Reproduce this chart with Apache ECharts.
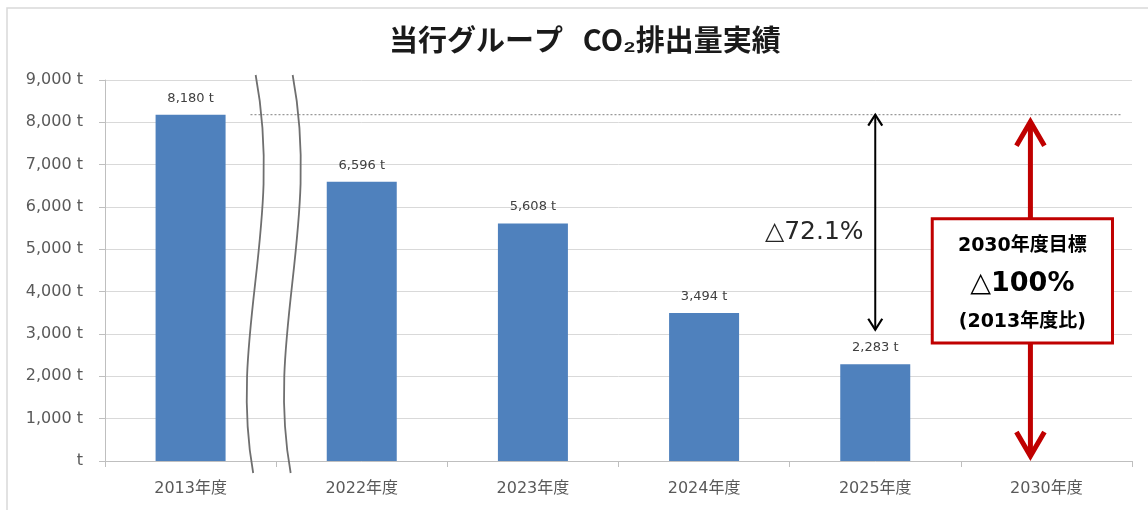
<!DOCTYPE html>
<html>
<head>
<meta charset="utf-8">
<script src="https://cdn.jsdelivr.net/npm/echarts@6/dist/echarts.min.js"></script>
<style>
html,body{margin:0;padding:0;background:#fff}
#main{width:1148px;height:510px}
</style>
</head>
<body>
<div id="main"></div>
<script>
// 年度ごとの排出量 (t)
var categories = ['2013年度', '2022年度', '2023年度', '2024年度', '2025年度', '2030年度'];
var emissions = [8180, 6596, 5608, 3494, 2283, null];
var yMin = 0, yMax = 9000, yStep = 1000;

// 注記
var baseValue = 8180;          // 2013年度基準
var reductionEnd = 3100;       // 黒矢印の下端
var reductionText = '△72.1%';
var targetLines = ['2030年度目標', '△100%', '(2013年度比)'];

var fontNum = "'DejaVu Sans', 'Noto Sans CJK JP', sans-serif";
var fontJp = "'Noto Sans CJK JP', sans-serif";

function fmt(v) {
  return v.toLocaleString('en-US') + ' t';
}

var myChart = echarts.init(document.getElementById('main'));
var option = {
  animation: false,
  backgroundColor: '#fff',
  title: {
    text: '当行グループ   CO₂排出量実績',
    left: 384,
    top: 20,
    textStyle: {fontFamily: fontJp, fontSize: 29, fontWeight: 'bold', color: '#1a1a1a'}
  },
  grid: {left: 105, right: 16, top: 80, bottom: 49},
  xAxis: {
    type: 'category',
    data: categories,
    axisLine: {lineStyle: {color: '#bfbfbf'}},
    axisTick: {show: true, length: 6, lineStyle: {color: '#bfbfbf'}},
    axisLabel: {margin: 20, fontFamily: fontNum, fontSize: 16, color: '#595959'}
  },
  yAxis: {
    type: 'value',
    min: yMin,
    max: yMax,
    interval: yStep,
    axisLine: {show: true, lineStyle: {color: '#bfbfbf'}},
    axisTick: {show: true, length: 6, lineStyle: {color: '#bfbfbf'}},
    splitLine: {lineStyle: {color: '#d9d9d9'}},
    axisLabel: {
      margin: 22,
      fontFamily: fontNum, fontSize: 16, color: '#595959',
      formatter: function (v) { return v === 0 ? 't' : fmt(v); }
    }
  },
  series: [{
    name: 'CO2排出量',
    type: 'bar',
    data: emissions,
    barWidth: 70,
    itemStyle: {color: '#4F81BD'},
    label: {
      show: true,
      position: 'top',
      distance: 10,
      fontFamily: fontNum, fontSize: 13, color: '#404040',
      formatter: function (p) { return fmt(p.value); }
    }
  }]
};
myChart.setOption(option);

// 注記類はデータ座標から位置を出して描く
function px(i, v) {
  return myChart.convertToPixel({gridIndex: 0}, [i, v]);
}
function drawNotes() {
  var c0 = px(0, 0), c1 = px(1, 0);
  var band = c1[0] - c0[0];
  var yTop = px(0, yMax)[1], yBot = px(0, yMin)[1];
  var yBase = px(0, baseValue)[1];
  var g = [];

  // 外枠
  g.push({type: 'rect', shape: {x: 7, y: 8, width: 1200, height: 600},
    style: {fill: 'none', stroke: '#d9d9d9', lineWidth: 1.5}, z: 0});

  // 2013年度基準の点線
  var xEnd = px(5, 0)[0] + band / 2 - 10;
  g.push({type: 'line', shape: {x1: c0[0] + band * 0.35, y1: yBase, x2: xEnd, y2: yBase},
    style: {stroke: '#999', lineWidth: 1.3, lineDash: [2, 2]}, z: 5});

  // 省略線（波線）
  var xb = c0[0] + band / 2;
  [[-20.5, -23], [16.5, 14.5]].forEach(function (d) {
    g.push({type: 'bezierCurve',
      shape: {x1: xb + d[0], y1: yTop - 5, cpx1: xb + d[0] + 28, cpy1: yTop + 145,
        cpx2: xb + d[0] - 27, cpy2: yTop + 255, x2: xb + d[1], y2: yBot + 12},
      style: {stroke: '#6f6f6f', lineWidth: 1.8, fill: 'none'}, z: 6});
  });

  // 黒の両矢印 (△72.1%)
  var xa = px(4, 0)[0];
  var ya1 = yBase, ya2 = px(4, reductionEnd)[1];
  g.push({type: 'line', shape: {x1: xa, y1: ya1, x2: xa, y2: ya2},
    style: {stroke: '#000', lineWidth: 2}, z: 7});
  g.push({type: 'polyline', shape: {points: [[xa - 7, ya1 + 11], [xa, ya1], [xa + 7, ya1 + 11]]},
    style: {stroke: '#000', lineWidth: 2.2, fill: 'none'}, z: 7});
  g.push({type: 'polyline', shape: {points: [[xa - 7, ya2 - 11], [xa, ya2], [xa + 7, ya2 - 11]]},
    style: {stroke: '#000', lineWidth: 2.2, fill: 'none'}, z: 7});
  g.push({type: 'text', x: xa - 61, y: px(4, 5400)[1],
    style: {text: reductionText, font: "normal 25px " + fontNum, fill: '#262626',
      align: 'center', verticalAlign: 'middle'}, z: 7});

  // 赤の両矢印 (2030年度目標)
  var xr = px(5, 0)[0] - 16;
  var yr1 = px(5, baseValue)[1] + 5, yr2 = yBot - 3;
  g.push({type: 'line', shape: {x1: xr, y1: yr1 + 2, x2: xr, y2: yr2 - 2},
    style: {stroke: '#C00000', lineWidth: 5}, z: 7});
  g.push({type: 'polyline', shape: {points: [[xr - 14, yr1 + 26], [xr, yr1 + 2], [xr + 14, yr1 + 26]]},
    style: {stroke: '#C00000', lineWidth: 5, fill: 'none', lineJoin: 'miter'}, z: 7});
  g.push({type: 'polyline', shape: {points: [[xr - 14, yr2 - 26], [xr, yr2 - 2], [xr + 14, yr2 - 26]]},
    style: {stroke: '#C00000', lineWidth: 5, fill: 'none', lineJoin: 'miter'}, z: 7});

  // 目標ボックス
  var bx1 = px(5, 0)[0] - band * 0.667, bx2 = px(5, 0)[0] + band * 0.386;
  var by1 = px(5, 5720)[1], by2 = px(5, 2790)[1];
  g.push({type: 'rect', shape: {x: bx1, y: by1, width: bx2 - bx1, height: by2 - by1},
    style: {fill: '#fff', stroke: '#C00000', lineWidth: 3}, z: 8});
  var bxc = (bx1 + bx2) / 2;
  g.push({type: 'text', x: bxc, y: by1 + 27,
    style: {text: targetLines[0], font: "bold 19px " + fontNum, fill: '#000', align: 'center', verticalAlign: 'middle'}, z: 9});
  g.push({type: 'text', x: bxc, y: by1 + 65,
    style: {text: targetLines[1], font: "bold 27px " + fontNum, fill: '#000', align: 'center', verticalAlign: 'middle'}, z: 9});
  g.push({type: 'text', x: bxc, y: by1 + 103,
    style: {text: targetLines[2], font: "bold 19px " + fontNum, fill: '#000', align: 'center', verticalAlign: 'middle'}, z: 9});

  myChart.setOption({graphic: g});
}
drawNotes();
</script>
</body>
</html>
